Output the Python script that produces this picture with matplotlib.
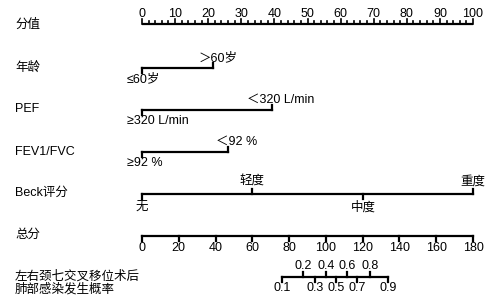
import matplotlib.pyplot as plt

plt.rcParams['font.family'] = ['Liberation Sans', 'Noto Sans CJK SC', 'DejaVu Sans']
plt.rcParams['font.size'] = 9

# 列名
row_names = ["分值", "年龄", "PEF", "FEV1/FVC", "Beck评分", "总分",
             "左右颈七交叉移位术后\n肺部感染发生概率"]

# 分值轴
points_major = [0, 10, 20, 30, 40, 50, 60, 70, 80, 90, 100]
points_minor = list(range(0, 101, 2))

# 各变量: 水平 -> 分值
age_levels = ["≤60岁", "＞60岁"]
age_points = [0, 21.5]
pef_levels = ["≥320 L/min", "＜320 L/min"]
pef_points = [0, 39.3]
fev_levels = ["≥92 %", "＜92 %"]
fev_points = [0, 26.0]
beck_levels = ["无", "轻度", "中度", "重度"]
beck_points = [0, 33.2, 66.8, 100]
beck_up = [False, True, False, True]

# 总分轴
total_ticks = [0, 20, 40, 60, 80, 100, 120, 140, 160, 180]
total_max = 180

# 概率轴 (对应总分)
prob_labels = ["0.1", "0.2", "0.3", "0.4", "0.5", "0.6", "0.7", "0.8", "0.9"]
prob_total = [76.1, 87.5, 94.1, 100.0, 105.5, 111.5, 116.9, 124.0, 133.8]

# 每行的 y (像素)
row_y = [24, 68, 110, 152, 194, 236, 277]
label_y = [25, 68, 109, 152, 193, 235, 283]

fig = plt.figure(figsize=(4.96, 2.99), dpi=100)
ax = fig.add_axes([0, 0, 1, 1])
ax.set_xlim(-142 / 3.31, (496 - 142) / 3.31)
ax.set_ylim(299, 0)
ax.axis("off")

lw = 1.6
tick_len = 5  # 像素

for name, y in zip(row_names, label_y):
    ax.annotate(name, (ax.get_xlim()[0], y), xytext=(15, 0), textcoords="offset pixels",
                ha="left", va="center", linespacing=0.95)

# 分值轴
y = row_y[0]
ax.plot([0, 100], [y, y], color="black", lw=lw, solid_capstyle="butt")
for p in points_minor:
    length = 5 if p in points_major else 3
    ax.plot([p, p], [y, y - length], color="black", lw=1.2)
for p in points_major:
    ax.text(p, y - 7, str(p), ha="center", va="baseline")


def binary_row(y, levels, pts, offsets):
    ax.plot([pts[0], pts[1]], [y, y], color="black", lw=lw, solid_capstyle="projecting")
    ax.plot([pts[0], pts[0]], [y, y + tick_len], color="black", lw=lw)
    ax.plot([pts[1], pts[1]], [y, y - tick_len], color="black", lw=lw)
    ax.annotate(levels[0], (pts[0], y), xytext=(offsets[0], -11), textcoords="offset pixels",
                ha="left", va="center")
    ax.annotate(levels[1], (pts[1], y), xytext=(offsets[1], 10), textcoords="offset pixels",
                ha="left", va="center")


binary_row(row_y[1], age_levels, age_points, (-15, -15))
binary_row(row_y[2], pef_levels, pef_points, (-15, -25))
binary_row(row_y[3], fev_levels, fev_points, (-15, -12))

# Beck
y = row_y[4]
ax.plot([beck_points[0], beck_points[-1]], [y, y], color="black", lw=lw, solid_capstyle="projecting")
for lev, p, up in zip(beck_levels, beck_points, beck_up):
    if up:
        ax.plot([p, p], [y, y - tick_len], color="black", lw=lw)
        ax.text(p, y - 12, lev, ha="center", va="center")
    else:
        ax.plot([p, p], [y, y + tick_len], color="black", lw=lw)
        ax.text(p, y + 13, lev, ha="center", va="center")

# 总分
y = row_y[5]
scale = 100 / total_max
ax.plot([0, 100], [y, y], color="black", lw=lw, solid_capstyle="projecting")
for t in total_ticks:
    ax.plot([t * scale, t * scale], [y, y + tick_len], color="black", lw=lw)
    ax.text(t * scale, y + 12, str(t), ha="center", va="center")

# 概率
y = row_y[6]
ax.plot([prob_total[0] * scale, prob_total[-1] * scale], [y, y], color="black", lw=lw,
        solid_capstyle="projecting")
for i, (lab, t) in enumerate(zip(prob_labels, prob_total)):
    x = t * scale
    if i % 2 == 0:
        ax.plot([x, x], [y, y + tick_len], color="black", lw=lw)
        ax.text(x, y + 11, lab, ha="center", va="center")
    else:
        ax.plot([x, x], [y, y - tick_len], color="black", lw=lw)
        ax.text(x, y - 11, lab, ha="center", va="center")

fig.savefig("out.png", dpi=100)
